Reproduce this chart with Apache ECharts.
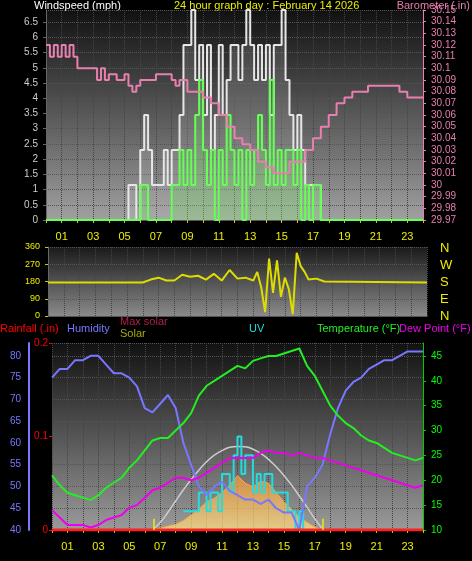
<!DOCTYPE html>
<html><head><meta charset="utf-8">
<script src="https://cdn.jsdelivr.net/npm/echarts@6/dist/echarts.min.js"></script>
<style>html,body{margin:0;padding:0;background:#000}#c{width:472px;height:561px}</style>
</head><body><div id="c"></div>
<script>
// ---- data ----
const pressTimes = [0,0.25,0.5,0.75,1,1.25,1.5,1.75,2,3,3.25,3.5,3.75,4,4.5,5,5.25,5.5,5.75,6,6.5,7,7.5,8,8.25,8.5,9,9.5,10,10.5,11,11.5,12,12.5,13,13.5,14,14.5,15,15.5,16,16.5,17,17.5,18,18.5,19,19.5,20,20.5,21,21.5,22,22.5,23,23.5,24];
const pressure = [30.12,30.11,30.12,30.11,30.12,30.11,30.12,30.11,30.10,30.10,30.09,30.10,30.09,30.095,30.09,30.095,30.085,30.08,30.085,30.09,30.09,30.095,30.095,30.09,30.085,30.09,30.08,30.08,30.075,30.07,30.06,30.05,30.04,30.035,30.03,30.02,30.015,30.01,30.01,30.02,30.02,30.03,30.04,30.05,30.06,30.07,30.075,30.08,30.08,30.085,30.085,30.085,30.085,30.08,30.075,30.075,30.075];
const windTimes = [0,4.75,5,5.25,5.5,5.75,6,6.25,6.5,6.75,7,7.25,7.5,7.75,8,8.25,8.5,8.75,9,9.25,9.5,9.75,10,10.25,10.5,10.75,11,11.25,11.5,11.75,12,12.25,12.5,12.75,13,13.25,13.5,13.75,14,14.25,14.5,14.75,15,15.25,15.5,15.75,16,16.25,16.5,16.75,17,17.25,17.5,17.75,24];
const windSpeed = [0,0,0,0,0,0,1.15,1.15,0,0,0,0,0,0,1.15,1.15,2.3,1.15,2.3,1.15,3.45,4.6,2.3,1.15,2.3,0,2.3,1.15,3.45,2.3,1.15,2.3,0,2.3,1.15,2.3,3.45,2.3,1.15,4.6,1.15,2.3,1.15,2.3,2.3,1.15,2.3,0,1.15,0,1.15,1.15,0,0,0];
const windGust = [0,0,0,1.15,1.15,0,2.3,3.45,2.3,1.15,1.15,1.15,2.3,1.15,2.3,2.3,3.45,5.75,5.75,6.9,4.6,5.75,3.45,5.75,2.3,3.45,5.75,3.45,4.6,5.75,5.75,4.6,5.75,6.9,5.75,4.6,5.75,4.6,5.75,3.45,5.75,5.75,6.9,4.6,3.45,2.3,3.45,2.3,1.15,1.15,1.15,1.15,0,0,0];
const dirTimes = [0,6,6.5,7,7.5,8,8.5,9,9.5,10,10.5,11,11.5,12,12.5,13,13.25,13.5,13.75,14,14.25,14.5,14.75,15,15.25,15.5,15.75,16,16.25,16.5,17,17.5,24];
const windDir = [175,175,190,200,185,185,215,205,210,190,220,185,240,195,200,185,230,150,20,300,120,290,100,200,140,10,330,260,230,190,195,180,175];
const halfHours = Array.from({length:49},(_,i)=>i/2);
const humidity = [75,77,77,79,79,80,80,78,76,76,75,73,68,67,69,71,68,60,55,50,48,50,51,49,48,47,47,46,47,45,44,44,40,50,52,55,62,68,72,74,75,77,78,79,79,80,81,81,81];
const temperature = [21,19,17.5,17,16.5,16,17,18.5,19.5,20.5,22.5,24,26,28,28.5,28.5,30,31.5,33.5,37,39,40,41,42,43,42.5,44,44.5,45,45,45.5,46,46.5,43,41,38,35,33,31.5,30.5,29,28,27.5,26.5,25.5,25,24.5,24,24.5];
const dewPoint = [14,12.5,11,11,11,10.5,11,12,12.5,13,14.5,15,16.5,18,18.5,19.5,20.5,20.5,20,20.5,21.5,22.5,23.5,24.5,24.5,24.5,24.5,25.5,26,25.5,25.5,25,25.5,25,24.5,24.5,24,23.5,23,22.5,22,21.5,21,20.5,20,19.5,19,18.5,19];
const maxSolarTimes = [6.5,7,7.5,8,8.5,9,9.5,10,10.5,11,11.5,12,12.5,13,13.5,14,14.5,15,15.5,16,16.5,17,17.5];
const maxSolar = [0,40,95,155,215,270,320,365,400,425,442,447,445,432,410,378,338,292,240,182,122,60,5];
const solarTimes = [6.5,7,7.5,8,8.5,9,9.5,10,10.5,11,11.5,12,12.5,13,13.5,14,14.5,15,15.5,16,16.5,17,17.5];
const solar = [0,10,20,30,50,80,110,150,170,200,240,290,250,230,260,250,200,150,110,70,40,15,0];
const uvTimes = [8.5,8.75,9,9.25,9.5,9.75,10,10.25,10.5,10.75,11,11.25,11.5,11.75,12,12.25,12.5,12.75,13,13.25,13.5,13.75,14,14.25,14.5,14.75,15,15.25,15.5,15.75,16,16.25,16.5];
const uv = [1,1,1,1,2,2,1,2,2,1,3,3,2,4,5,3,4,4,2,3,2,3,3,2,2,2,2,1,1,0,1,0,0];
const rainTimes = [0,24];
const rain = [0,0];
const hourLabels = ['01','03','05','07','09','11','13','15','17','19','21','23'];

const pairs=(t,v)=>t.map((x,i)=>[x,v[i]]);
const chart = echarts.init(document.getElementById('c'));
const F='Liberation Sans';
const bg=(a,b)=>new echarts.graphic.LinearGradient(0,0,0,1,[{offset:0,color:a},{offset:1,color:b}]);
const xAx=(gi,show,m)=>({type:'value',gridIndex:gi,min:0,max:24,interval:1,
  axisLine:{show:true,onZero:false,lineStyle:{color:'#555'}},
  axisTick:{show:show,length:3,lineStyle:{color:'#cc0'}},
  axisLabel:{show:show,color:'#ee0',fontSize:11,fontFamily:F,margin:m,
    formatter:v=>(v%2===1)?hourLabels[(v-1)/2]:''},
  splitLine:{show:true,lineStyle:{color:'#444',type:'dotted'}}});
const split={show:true,lineStyle:{color:'#555',type:'dotted'}};
chart.setOption({
  backgroundColor:'#000',animation:false,
  grid:[
    {left:46,right:49,top:10,height:210,show:true,backgroundColor:bg('#111','#a0a0a0'),borderWidth:0},
    {left:48,right:45,top:247,height:69,show:true,backgroundColor:bg('#1a1a1a','#8a8a8a'),borderWidth:0},
    {left:52,right:49,top:343,height:187,show:true,backgroundColor:bg('#111','#9a9a9a'),borderWidth:0}],
  xAxis:[xAx(0,true,11),xAx(1,false,8),xAx(2,true,11)],
  yAxis:[
    {type:'value',gridIndex:0,min:0,max:6.9,interval:0.5,axisLabel:{color:'#ccc',fontSize:10,fontFamily:F,showMaxLabel:false,formatter:v=>String(+v.toFixed(1))},
      axisLine:{show:true,onZero:false,lineStyle:{color:'#666'}},axisTick:{show:true,length:3},splitLine:split},
    {type:'value',gridIndex:0,position:'right',min:29.97,max:30.15,interval:0.01,axisLabel:{color:'#e87fb0',fontSize:10,fontFamily:F,formatter:v=>String(+v.toFixed(2))},
      axisLine:{show:true,onZero:false,lineStyle:{color:'#e87fb0'}},axisTick:{show:true,length:3},splitLine:{show:false}},
    {type:'value',gridIndex:1,min:0,max:360,interval:90,axisLabel:{color:'#ee0',fontSize:9,fontFamily:F},
      axisLine:{show:true,onZero:false,lineStyle:{color:'#666'}},axisTick:{show:true,length:3,lineStyle:{color:'#cc0'}},splitLine:split},
    {type:'value',gridIndex:2,position:'left',min:40,max:82.95,interval:5,offset:23,axisLabel:{color:'#7777ff',fontSize:10,fontFamily:F,showMaxLabel:false},
      axisLine:{show:true,onZero:false,lineStyle:{color:'#7777ff',width:2}},axisTick:{show:false},splitLine:split},
    {type:'value',gridIndex:2,position:'left',min:0,max:0.2,interval:0.1,axisLabel:{color:'#f00',fontSize:10,fontFamily:F,margin:4,formatter:v=>String(+v.toFixed(1))},
      axisLine:{show:false},axisTick:{show:true,length:3,lineStyle:{color:'#f00'}},splitLine:{show:false}},
    {type:'value',gridIndex:2,position:'right',min:10,max:47.6,interval:5,axisLabel:{color:'#0f0',fontSize:10,fontFamily:F,showMaxLabel:false},
      axisLine:{show:true,onZero:false,lineStyle:{color:'#0c0'}},axisTick:{show:true,length:3},splitLine:{show:false}},
    {type:'value',gridIndex:2,min:0,max:1000,show:false},
    {type:'value',gridIndex:2,min:0,max:10,show:false}],
  series:[
    {type:'line',xAxisIndex:0,yAxisIndex:0,data:pairs(windTimes,windGust),step:'end',symbol:'none',lineStyle:{color:'#e6e6e6',width:2},areaStyle:{color:'rgba(230,230,230,0.2)'}},
    {type:'line',xAxisIndex:0,yAxisIndex:0,data:pairs(windTimes,windSpeed),step:'end',symbol:'none',lineStyle:{color:'#66ff55',width:2},areaStyle:{color:'rgba(100,255,80,0.3)'}},
    {type:'line',xAxisIndex:0,yAxisIndex:1,data:pairs(pressTimes,pressure),step:'end',symbol:'none',lineStyle:{color:'#e87fb0',width:2}},
    {type:'line',xAxisIndex:1,yAxisIndex:2,data:pairs(dirTimes,windDir),symbol:'none',lineStyle:{color:'#dddd00',width:2}},
    {type:'line',xAxisIndex:2,yAxisIndex:6,data:pairs(solarTimes,solar),symbol:'none',lineStyle:{color:'#ffaa44',width:1},
      areaStyle:{color:new echarts.graphic.LinearGradient(0,0,0,1,[{offset:0,color:'#ff9933'},{offset:1,color:'#ffe080'}])}},
    {type:'line',xAxisIndex:2,yAxisIndex:6,data:pairs(maxSolarTimes,maxSolar),smooth:true,symbol:'none',lineStyle:{color:'#cccccc',width:1.5}},
    {type:'line',xAxisIndex:2,yAxisIndex:7,data:pairs(uvTimes,uv),step:'end',symbol:'none',lineStyle:{color:'#22dddd',width:2}},
    {type:'line',xAxisIndex:2,yAxisIndex:3,data:pairs(halfHours,humidity),symbol:'none',lineStyle:{color:'#7777ff',width:2}},
    {type:'line',xAxisIndex:2,yAxisIndex:5,data:pairs(halfHours,temperature),symbol:'none',lineStyle:{color:'#22ee22',width:2}},
    {type:'line',xAxisIndex:2,yAxisIndex:5,data:pairs(halfHours,dewPoint),symbol:'none',lineStyle:{color:'#ee00ee',width:2}},
    {type:'line',xAxisIndex:2,yAxisIndex:4,data:pairs(rainTimes,rain),symbol:'none',lineStyle:{color:'#ff2020',width:3},
      markLine:{silent:true,symbol:'none',label:{show:false},lineStyle:{color:'#ee0',type:'solid',width:1.5},data:[[{coord:[6.6,0]},{coord:[6.6,0.012]}],[{coord:[17.5,0]},{coord:[17.5,0.012]}]]}}
  ],
  graphic:[
    {type:'text',left:34,top:0,style:{text:'Windspeed (mph)',fill:'#fff',font:'11px '+F}},
    {type:'text',left:174,top:0,style:{text:'24 hour graph day : February 14 2026',fill:'#ee0',font:'11px '+F}},
    {type:'text',right:2,top:0,style:{text:'Barometer (.in)',fill:'#e87fb0',font:'11px '+F}},
    {type:'text',left:440,top:240,style:{text:'N\nW\nS\nE\nN',fill:'#ee0',font:'13px '+F,lineHeight:17}},
    {type:'text',left:0,top:323,style:{text:'Rainfall (.in)',fill:'#f00',font:'11px '+F}},
    {type:'text',left:67,top:323,style:{text:'Humidity',fill:'#7777ff',font:'11px '+F}},
    {type:'text',left:120,top:316,style:{text:'Max solar',fill:'#b0204a',font:'11px '+F}},
    {type:'text',left:120,top:328,style:{text:'Solar',fill:'#aaaa00',font:'11px '+F}},
    {type:'text',left:249,top:323,style:{text:'UV',fill:'#22dddd',font:'11px '+F}},
    {type:'text',left:317,top:323,style:{text:'Temperature (°F)',fill:'#22ee22',font:'11px '+F}},
    {type:'text',left:399,top:323,style:{text:'Dew Point (°F)',fill:'#ee00ee',font:'11px '+F}}
  ]
});
</script></body></html>
